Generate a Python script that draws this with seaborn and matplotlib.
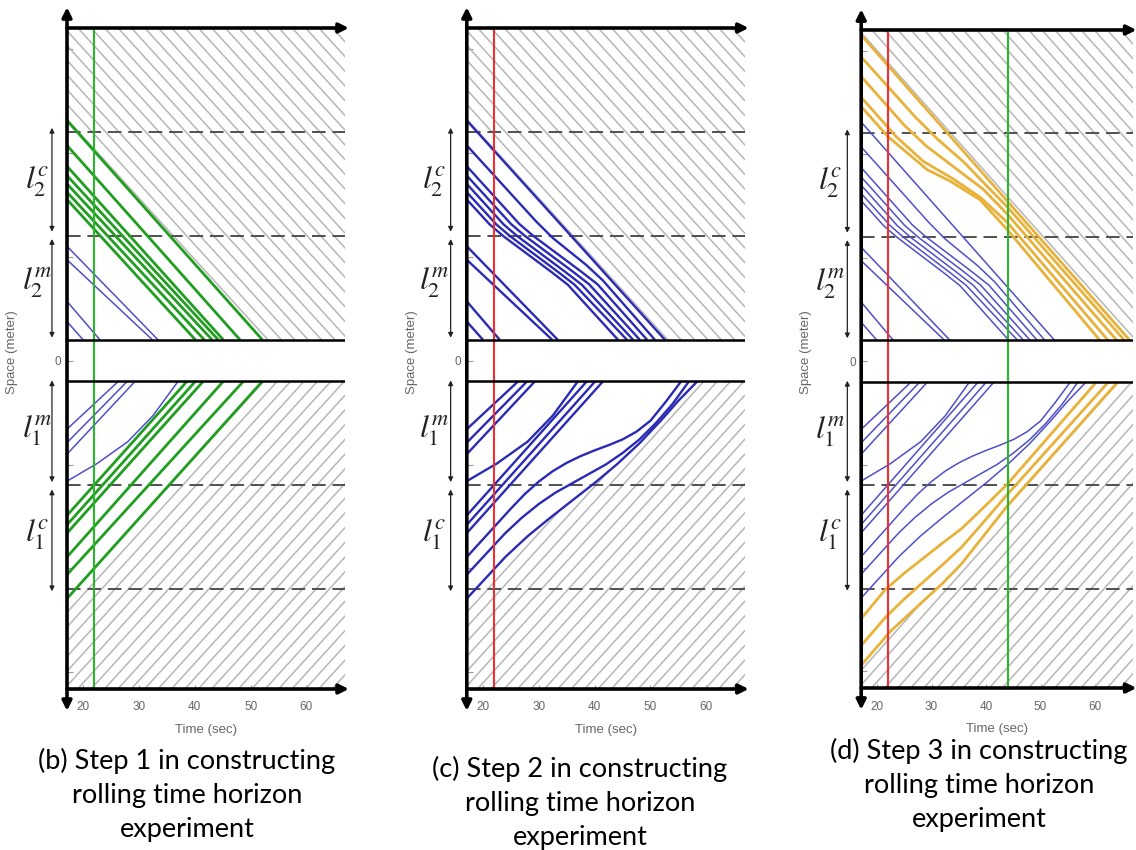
import numpy as np
import pandas as pd
import matplotlib
matplotlib.use("Agg")
import matplotlib.pyplot as plt
from matplotlib.patches import Polygon
from matplotlib.collections import LineCollection
import seaborn as sns

# ---------------------------------------------------------------- data
T_START, T_END = 17.1, 67.0      # visible time window (sec)
S_MIN, S_MAX = -316, 320         # visible space window (m)
ROAD_EDGE = 20                   # road edge on each side of the junction (m)
ZONE_BOUNDS = [120, 220]         # dashed zone boundaries (m), mirrored for direction 1
FREE_SPEED = 5.9                 # free-flow speed of the background hatching (m/s)
HATCH_HEADWAY = 2.4              # time gap between hatching lines (sec)

time_ticks = [20, 30, 40, 50, 60]
space_ticks = [-300, -200, -100, 0, 100, 200, 300]
space_tick_labels = ["", "", "", "0", "", "", ""]

# direction 2 (upper road) ------------------------------------------
hist_dir2 = [
    ([17.1, 33.4], [110, 20]),
    ([17.1, 32.4], [97, 20]),
    ([17.1, 23.0], [57, 20]),
    ([17.1, 20.0], [37.5, 20]),
]
green_dir2_entry = [231, 207, 187, 178, 170, 162, 155]
green_dir2_exit = [52.1, 48.1, 45.1, 44.2, 43.1, 41.7, 40.1]

step2_dir2 = [
    ([17.1, 52.6], [231, 20]),
    ([17.1, 29.5, 32.5, 38.5, 41.5, 50.8], [207, 134, 118, 92, 77, 20]),
    ([17.1, 26.5, 29.0, 37.5, 40.5, 49.4], [187, 131.5, 120, 86, 73.5, 20]),
    ([17.1, 25.0, 27.5, 36.0, 39.0, 48.1], [178, 131.5, 120, 86, 73.5, 20]),
    ([17.1, 23.7, 26.2, 34.7, 37.7, 46.9], [170, 131, 119.5, 85.5, 73, 20]),
    ([17.1, 22.4, 24.9, 33.4, 36.4, 45.8], [162, 131, 119.5, 85.5, 73, 20]),
    ([17.1, 21.2, 23.7, 32.2, 35.2, 44.2], [155, 131, 119.5, 85.5, 73, 20]),
]
step3_dir2 = [
    ([17.1, 66.4], [315, 20]),
    ([17.1, 27.0, 31.0, 36.0, 40.0, 43.9, 65.4], [294, 236, 215, 192, 170, 149, 20]),
    ([17.1, 25.0, 29.0, 35.0, 39.5, 43.9, 64.0], [275, 228, 208, 184, 166, 142, 20]),
    ([17.1, 23.5, 28.5, 34.0, 39.0, 43.9, 62.4], [255, 217, 193, 176, 158, 134, 20]),
    ([17.1, 22.0, 29.2, 33.4, 38.9, 43.9, 60.9], [246, 217, 185, 174, 156, 127, 20]),
]

# direction 1 (lower road) ------------------------------------------
hist_dir1 = [
    ([17.1, 26.3], [-66, -20]),
    ([17.1, 27.9], [-79, -20]),
    ([17.1, 29.3], [-90, -20]),
    ([17.1, 22.5, 28.0, 32.5, 37.0], [-116, -99, -78, -53, -20]),
]
green_dir1_entry = [-149, -158, -166, -189, -206, -229]
green_dir1_exit = [38.6, 40.1, 41.5, 45.1, 48.7, 52.1]

step2_dir1 = [
    ([17.1, 38.6], [-149, -20]),
    ([17.1, 40.1], [-158, -20]),
    ([17.1, 41.5], [-166, -20]),
    ([17.1, 25.0, 27.5, 30.0, 32.5, 35.0, 37.5, 40.0, 42.5, 45.0, 47.5, 50.0, 52.7, 55.5],
     [-189, -142.4, -128.4, -116.4, -106.4, -98.4, -91.9, -86.4, -81.4, -75.9, -68.4,
      -57.9, -40, -20]),
    ([17.1, 24.0, 27.0, 30.0, 33.0, 36.0, 39.0, 42.0, 45.0, 48.0, 51.0, 54.0, 56.9],
     [-206, -166, -151, -138, -127, -118, -109, -100, -89, -76, -60, -41.5, -20]),
    ([17.1, 24.0, 28.0, 32.0, 36.0, 40.0, 44.0, 48.0, 52.0, 55.0, 58.4],
     [-229, -189, -169, -151.4, -134.6, -117.8, -99.8, -79.8, -57, -38.7, -20]),
]
step3_dir1 = [
    ([17.1, 21.5, 25.0, 32.0, 35.5, 38.5, 43.9, 60.3],
     [-249, -221, -205, -176, -162, -147, -119, -20]),
    ([17.1, 21.5, 25.0, 32.0, 35.5, 38.5, 43.9, 62.5],
     [-275, -248, -230, -197, -180, -162, -129, -20]),
    ([17.1, 22.5, 26.0, 32.0, 35.5, 43.9, 64.2], [-294, -261, -244, -215, -196, -140, -20]),
]

horizon_times = {"b": [22.0], "c": [22.0], "d": [22.0, 44.0]}

captions = {
    "b": "(b) Step 1 in constructing\nrolling time horizon\nexperiment",
    "c": "(c) Step 2 in constructing\nrolling time horizon\nexperiment",
    "d": "(d) Step 3 in constructing\nrolling time horizon\nexperiment",
}

# ---------------------------------------------------------------- style
sns.set_theme(style="white")
plt.rcParams["font.family"] = ["Liberation Sans", "DejaVu Sans"]
plt.rcParams["mathtext.fontset"] = "stix"

BLUE_THIN = "#4f4fc8"
BLUE_THICK = "#2a2ab4"
GREEN = "#1f9e1f"
GREEN_V = "#2db52d"
RED_V = "#f03030"
YELLOW = "#e8b23a"
HATCH = "#b6b6b6"
DASH = "#505050"
TICK_TXT = "#666666"

W, H = 1136, 850
panel_px = {"b": (67.0, 28, 278.5, 661), "c": (466.8, 28, 278.5, 661), "d": (861.2, 30, 272, 658)}
side_arrow_x = {"b": -0.054, "c": -0.058, "d": -0.051}
side_label_x = {"b": -0.108, "c": -0.119, "d": -0.114}
caption_xy = {"b": (187, 795), "c": (580, 803), "d": (979, 785)}


def straight(entries, exits, edge):
    return [([T_START, te], [s0, edge]) for s0, te in zip(entries, exits)]


def traj_frame(trajs):
    rows = []
    for vid, (ts, ss) in enumerate(trajs):
        for t, s in zip(ts, ss):
            rows.append((vid, t, s))
    return pd.DataFrame(rows, columns=["vid", "t", "s"])


def draw_group(ax, trajs, color, lw, z=3):
    sns.lineplot(data=traj_frame(trajs), x="t", y="s", units="vid", estimator=None,
                 sort=False, color=color, linewidth=lw, ax=ax, legend=False,
                 zorder=z, solid_joinstyle="round", solid_capstyle="butt")


def hatch(ax, boundary, upper):
    bt, bs = boundary
    if upper:
        verts = list(zip(bt, bs)) + [(T_END, ROAD_EDGE), (T_END, S_MAX), (T_START, S_MAX)]
        sign, c_lo, c_hi = -1, ROAD_EDGE, S_MAX + FREE_SPEED * (T_END - T_START)
    else:
        verts = list(zip(bt, bs)) + [(T_END, -ROAD_EDGE), (T_END, S_MIN), (T_START, S_MIN)]
        sign, c_lo, c_hi = 1, S_MIN - FREE_SPEED * (T_END - T_START), -ROAD_EDGE
    span = T_END - T_START
    segs = [[(T_START, c), (T_END, c + sign * FREE_SPEED * span)]
            for c in np.arange(c_lo, c_hi, FREE_SPEED * HATCH_HEADWAY)]
    lc = LineCollection(segs, colors=HATCH, linewidths=1.1, zorder=1)
    ax.add_collection(lc)
    clip = Polygon(verts, closed=True, transform=ax.transData)
    lc.set_clip_path(clip)


def arrow(ax, p0, p1, style, lw, ms, color="black", coords="data", z=7):
    ax.annotate("", xy=p1, xytext=p0, xycoords=coords, textcoords=coords,
                arrowprops=dict(arrowstyle=style, lw=lw, color=color, mutation_scale=ms,
                                shrinkA=0, shrinkB=0),
                annotation_clip=False, zorder=z)


def frame(ax, key):
    ax.set_xlim(T_START, T_END)
    ax.set_ylim(S_MIN, S_MAX)
    for sp in ax.spines.values():
        sp.set_visible(False)
    ax.set_xticks(time_ticks)
    ax.set_yticks(space_ticks)
    ax.set_yticklabels(space_tick_labels)
    ax.tick_params(axis="x", direction="in", length=3, width=0.8, color="#999999",
                   labelcolor=TICK_TXT, labelsize=8.5, pad=9, bottom=True)
    ax.tick_params(axis="y", direction="in", length=4, width=0.8, color="#999999",
                   labelcolor=TICK_TXT, labelsize=8.5, pad=4, left=True)
    ax.set_xlabel("")
    ax.set_ylabel("")
    ax.text(0.5, -0.062, "Time (sec)", transform=ax.transAxes, ha="center", va="center",
            fontsize=9.5, color=TICK_TXT)
    ax.text(-55 / panel_px[key][2], 0.51, "Space (meter)", transform=ax.transAxes,
            ha="center", va="center", rotation=90, fontsize=9.5, color=TICK_TXT)

    # zone boundaries and road edges
    for b in ZONE_BOUNDS:
        for s in (b, -b):
            ax.plot([T_START, T_END], [s, s], color=DASH, lw=1.4, dashes=(7, 3.5), zorder=2)
    for s in (ROAD_EDGE, -ROAD_EDGE):
        ax.plot([T_START, T_END], [s, s], color="black", lw=1.8, zorder=6,
                solid_capstyle="butt")

    # axes drawn as arrows
    arrow(ax, (T_START, S_MAX), (T_END + 0.6, S_MAX), "-|>", 2.6, 14)
    arrow(ax, (T_START, S_MIN), (T_END + 0.6, S_MIN), "-|>", 2.6, 14)
    arrow(ax, (T_START, S_MIN - 21), (T_START, S_MAX + 20), "<|-|>", 2.6, 14)

    # zone extents on the left
    tr = ax.get_yaxis_transform()
    ax_ = side_arrow_x[key]
    spans = [(224, 124), (117, 22), (-19, -117), (-124, -222)]
    for top, bot in spans:
        arrow(ax, (ax_, top), (ax_, bot), "<|-|>", 0.9, 7, color="#222222", coords=tr)
    labels = [(172, r"$l_2^c$"), (75, r"$l_2^m$"), (-68, r"$l_1^m$"), (-168, r"$l_1^c$")]
    for s, txt in labels:
        ax.text(side_label_x[key], s, txt, transform=tr, ha="center", va="center",
                fontsize=23, color="#222222")


fig = plt.figure(figsize=(W / 100, H / 100), dpi=100)
axes = {}
for key, (l, t, w, h) in panel_px.items():
    axes[key] = fig.add_axes([l / W, 1 - (t + h) / H, w / W, h / H])

green_dir2 = straight(green_dir2_entry, green_dir2_exit, ROAD_EDGE)
green_dir1 = straight(green_dir1_entry, green_dir1_exit, -ROAD_EDGE)

# step 1
ax = axes["b"]
hatch(ax, green_dir2[0], upper=True)
hatch(ax, green_dir1[-1], upper=False)
draw_group(ax, hist_dir2 + hist_dir1, BLUE_THIN, 1.1)
draw_group(ax, green_dir2 + green_dir1, GREEN, 2.0)

# step 2
ax = axes["c"]
hatch(ax, step2_dir2[0], upper=True)
hatch(ax, step2_dir1[-1], upper=False)
draw_group(ax, hist_dir2 + hist_dir1 + step2_dir2 + step2_dir1, BLUE_THICK, 1.7)

# step 3
ax = axes["d"]
hatch(ax, step3_dir2[0], upper=True)
hatch(ax, step3_dir1[-1], upper=False)
draw_group(ax, hist_dir2 + hist_dir1 + step2_dir2 + step2_dir1, BLUE_THIN, 1.1)
draw_group(ax, step3_dir2 + step3_dir1, YELLOW, 2.0)

vcolors = {"b": [GREEN_V], "c": [RED_V], "d": [RED_V, GREEN_V]}
for key, ax in axes.items():
    for tv, col in zip(horizon_times[key], vcolors[key]):
        ax.plot([tv, tv], [S_MIN, S_MAX], color=col, lw=1.5, zorder=5)
    frame(ax, key)
    cx, cy = caption_xy[key]
    fig.text(cx / W, 1 - cy / H, captions[key], ha="center", va="center",
             fontsize=19.5, family="Lato", linespacing=1.45, color="black")

fig.savefig("out.png", dpi=100)
